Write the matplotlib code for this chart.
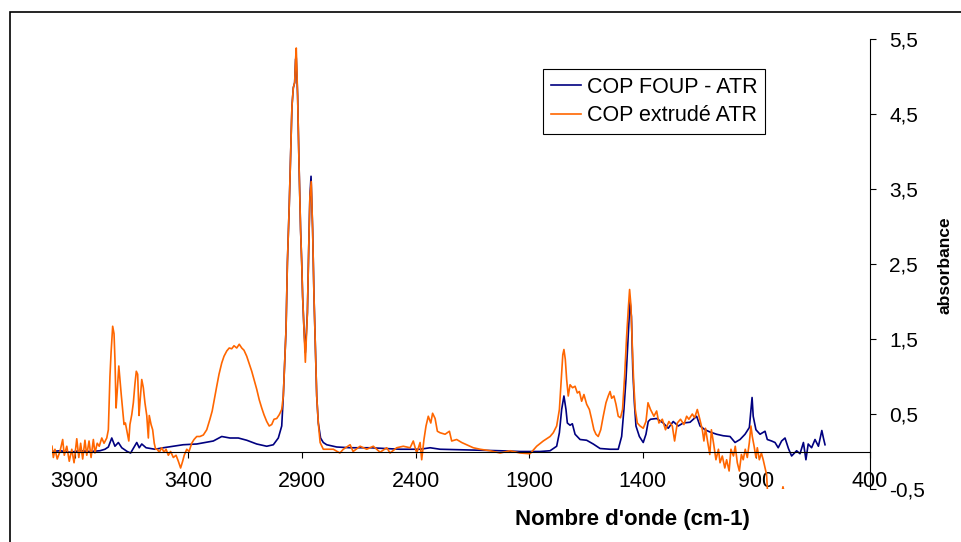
import matplotlib
matplotlib.use('Agg')
import matplotlib.pyplot as plt
from matplotlib.patches import Rectangle

plt.rcParams['font.family'] = ['Liberation Sans', 'DejaVu Sans']

# COP FOUP - ATR (wavenumber cm-1 / absorbance)
foup_wn = [4000, 3965, 3921, 3877, 3833, 3789, 3767, 3752, 3737, 3723,
           3708, 3693, 3669, 3654, 3627, 3616, 3605, 3586, 3547, 3510,
           3467, 3423, 3363, 3290, 3253, 3217, 3180, 3143, 3099, 3055,
           3026, 3004, 2989, 2982, 2970, 2964, 2956, 2950, 2944, 2938,
           2932, 2928, 2925, 2919, 2913, 2906, 2901, 2897, 2891, 2885,
           2876, 2870, 2865, 2860, 2853, 2847, 2839, 2835, 2828, 2818,
           2806, 2791, 2747, 2688, 2600, 2468, 2380, 2336, 2292, 2160,
           2028, 1940, 1852, 1808, 1779, 1767, 1757, 1747, 1738, 1732,
           1720, 1710, 1698, 1676, 1647, 1618, 1588, 1544, 1508, 1493,
           1483, 1474, 1468, 1462, 1456, 1450, 1444, 1437, 1430, 1415,
           1398, 1386, 1376, 1366, 1339, 1310, 1288, 1266, 1244, 1222,
           1192, 1163, 1148, 1126, 1104, 1075, 1046, 1016, 994, 972,
           950, 931, 924, 919, 914, 902, 884, 862, 852, 833,
           818, 804, 789, 774, 759, 745, 723, 708, 693, 682,
           672, 657, 642, 627, 612, 605, 598]
foup_abs = [0.00, 0.01, -0.01, 0.01, 0.00, 0.01, 0.03, 0.06, 0.18, 0.07,
            0.12, 0.05, 0.00, -0.02, 0.12, 0.05, 0.10, 0.05, 0.03, 0.05,
            0.07, 0.09, 0.10, 0.14, 0.20, 0.18, 0.18, 0.15, 0.10, 0.07,
            0.09, 0.18, 0.34, 0.74, 1.63, 2.52, 3.27, 3.94, 4.60, 4.85,
            4.92, 5.23, 5.25, 4.74, 3.85, 2.96, 2.52, 2.07, 1.63, 1.32,
            1.85, 2.74, 3.40, 3.67, 2.96, 2.07, 1.19, 0.74, 0.38, 0.18,
            0.12, 0.09, 0.06, 0.05, 0.05, 0.03, 0.03, 0.05, 0.03, 0.02,
            0.01, 0.00, 0.00, 0.01, 0.07, 0.25, 0.56, 0.74, 0.56, 0.38,
            0.35, 0.37, 0.23, 0.16, 0.15, 0.10, 0.04, 0.03, 0.03, 0.20,
            0.56, 0.96, 1.32, 1.67, 2.00, 1.80, 1.09, 0.65, 0.34, 0.20,
            0.12, 0.23, 0.40, 0.43, 0.44, 0.38, 0.31, 0.40, 0.34, 0.38,
            0.39, 0.47, 0.34, 0.29, 0.26, 0.23, 0.21, 0.20, 0.12, 0.16,
            0.23, 0.32, 0.56, 0.72, 0.47, 0.29, 0.23, 0.27, 0.16, 0.14,
            0.12, 0.05, 0.14, 0.18, 0.04, -0.06, 0.01, -0.03, 0.12, -0.11,
            0.10, 0.05, 0.16, 0.07, 0.28, 0.18, 0.09]

# COP extrude ATR
extr_wn = [4000, 3994, 3987, 3977, 3965, 3953, 3946, 3935, 3924, 3913,
           3903, 3891, 3882, 3874, 3865, 3855, 3847, 3837, 3828, 3818,
           3811, 3801, 3792, 3781, 3771, 3759, 3752, 3745, 3740, 3733,
           3727, 3723, 3718, 3713, 3706, 3701, 3695, 3689, 3683, 3677,
           3669, 3662, 3657, 3649, 3642, 3635, 3629, 3623, 3617, 3613,
           3605, 3598, 3591, 3583, 3576, 3572, 3564, 3557, 3550, 3544,
           3537, 3528, 3517, 3507, 3498, 3488, 3478, 3466, 3454, 3444,
           3434, 3425, 3418, 3407, 3397, 3385, 3375, 3363, 3349, 3334,
           3319, 3305, 3295, 3286, 3275, 3265, 3253, 3243, 3231, 3220,
           3209, 3199, 3187, 3176, 3165, 3155, 3143, 3133, 3121, 3111,
           3099, 3088, 3077, 3067, 3055, 3044, 3033, 3023, 3011, 3000,
           2989, 2982, 2970, 2964, 2956, 2950, 2944, 2938, 2932, 2928,
           2925, 2919, 2913, 2906, 2901, 2897, 2891, 2885, 2876, 2870,
           2865, 2859, 2853, 2847, 2839, 2835, 2828, 2820, 2806, 2762,
           2733, 2718, 2688, 2675, 2644, 2615, 2586, 2556, 2527, 2512,
           2483, 2454, 2424, 2410, 2395, 2380, 2373, 2363, 2354, 2344,
           2333, 2325, 2314, 2304, 2292, 2270, 2251, 2241, 2219, 2197,
           2175, 2146, 2116, 2072, 2028, 1984, 1940, 1896, 1867, 1838,
           1808, 1794, 1779, 1767, 1758, 1752, 1747, 1741, 1735, 1728,
           1720, 1709, 1698, 1688, 1679, 1669, 1659, 1647, 1635, 1625,
           1615, 1606, 1596, 1585, 1574, 1562, 1552, 1544, 1537, 1527,
           1518, 1508, 1498, 1489, 1480, 1471, 1464, 1458, 1452, 1446,
           1440, 1433, 1424, 1412, 1398, 1386, 1377, 1366, 1351, 1339,
           1329, 1314, 1300, 1285, 1270, 1260, 1248, 1234, 1219, 1207,
           1197, 1182, 1172, 1160, 1149, 1138, 1131, 1124, 1114, 1105,
           1098, 1088, 1078, 1067, 1060, 1050, 1039, 1031, 1020, 1012,
           1001, 993, 984, 975, 966, 958, 949, 940, 931, 924,
           918, 910, 902, 896, 887, 878, 870, 862, 855, 849,
           818, 791, 783, 774, 757]
extr_abs = [0.07, -0.08, 0.03, -0.10, 0.00, 0.16, -0.05, 0.07, -0.13, 0.03,
            -0.15, 0.17, -0.08, 0.11, -0.10, 0.15, -0.05, 0.14, -0.08, 0.16,
            -0.02, 0.11, 0.07, 0.18, 0.11, 0.18, 0.29, 1.00, 1.32, 1.67,
            1.57, 1.23, 0.58, 0.80, 1.14, 0.96, 0.75, 0.56, 0.36, 0.38,
            0.25, 0.14, 0.36, 0.49, 0.65, 0.90, 1.07, 1.03, 0.48, 0.65,
            0.96, 0.85, 0.65, 0.48, 0.18, 0.48, 0.36, 0.29, 0.11, 0.03,
            0.03, -0.01, 0.05, -0.01, 0.03, -0.05, 0.00, -0.08, -0.05, -0.13,
            -0.22, -0.13, -0.05, 0.03, 0.00, 0.11, 0.16, 0.20, 0.20, 0.22,
            0.29, 0.43, 0.54, 0.69, 0.87, 1.03, 1.18, 1.27, 1.34, 1.38,
            1.37, 1.41, 1.38, 1.43, 1.38, 1.35, 1.27, 1.18, 1.07, 0.96,
            0.83, 0.69, 0.58, 0.49, 0.40, 0.34, 0.36, 0.43, 0.44, 0.49,
            0.56, 0.74, 1.63, 2.52, 3.27, 3.94, 4.60, 4.85, 4.92, 5.23,
            5.38, 4.74, 3.85, 2.96, 2.52, 2.07, 1.63, 1.19, 1.85, 2.74,
            3.40, 3.60, 2.96, 2.07, 1.19, 0.74, 0.38, 0.12, 0.03, 0.03,
            -0.02, 0.03, 0.09, 0.00, 0.07, 0.03, 0.07, -0.01, 0.05, -0.02,
            0.05, 0.07, 0.05, 0.14, -0.02, 0.12, -0.11, 0.16, 0.34, 0.47,
            0.38, 0.51, 0.44, 0.27, 0.25, 0.23, 0.27, 0.14, 0.16, 0.12,
            0.09, 0.05, 0.03, 0.01, -0.02, 0.01, -0.02, -0.03, 0.07, 0.14,
            0.20, 0.25, 0.34, 0.56, 1.00, 1.29, 1.36, 1.23, 0.96, 0.74,
            0.89, 0.85, 0.87, 0.78, 0.80, 0.67, 0.76, 0.63, 0.56, 0.43,
            0.29, 0.23, 0.20, 0.29, 0.47, 0.65, 0.74, 0.80, 0.71, 0.74,
            0.63, 0.47, 0.45, 0.56, 1.00, 1.54, 1.89, 2.16, 1.94, 1.40,
            0.92, 0.56, 0.38, 0.34, 0.31, 0.40, 0.65, 0.56, 0.47, 0.54,
            0.38, 0.43, 0.29, 0.40, 0.34, 0.14, 0.38, 0.43, 0.36, 0.47,
            0.43, 0.50, 0.45, 0.56, 0.43, 0.29, 0.14, 0.31, 0.12, -0.04,
            0.29, 0.10, -0.11, 0.03, -0.15, -0.06, -0.22, -0.11, -0.26, 0.03,
            -0.06, 0.07, -0.15, -0.26, -0.04, -0.11, 0.03, -0.08, 0.12, 0.34,
            0.20, 0.07, -0.08, 0.05, -0.11, -0.02, -0.11, -0.22, -0.31, -0.65,
            -0.75, -0.60, -0.47, -0.60, -0.80]

x_ticks = [3900, 3400, 2900, 2400, 1900, 1400, 900, 400]
y_ticks = [-0.5, 0.5, 1.5, 2.5, 3.5, 4.5, 5.5]

W, H = 962, 542
fig = plt.figure(figsize=(W / 100, H / 100), dpi=100)
ax = fig.add_axes([52 / W, 1 - 489 / H, (870 - 52) / W, (489 - 39) / H])

ax.plot(foup_wn, foup_abs, color='#000080', lw=1.2, label='COP FOUP - ATR')
ax.plot(extr_wn, extr_abs, color='#FF6600', lw=1.2, label='COP extrudé ATR')

ax.set_xlim(4000, 400)
ax.set_ylim(-0.5, 5.5)

# excel-like axes: x axis crosses at 0, y axis on the right
ax.spines['left'].set_visible(False)
ax.spines['top'].set_visible(False)
ax.spines['bottom'].set_position(('data', 0))
ax.yaxis.tick_right()
ax.set_xticks(x_ticks)
ax.set_yticks(y_ticks)
ax.set_yticklabels([f'{v:.1f}'.replace('.', ',') for v in y_ticks])
ax.tick_params(axis='x', direction='out', length=4, width=0.8, labelsize=15.5, pad=10)
ax.tick_params(axis='y', direction='out', length=4, width=0.8, labelsize=15, pad=10)

leg = ax.legend(loc='upper left', bbox_to_anchor=(543 / W, 1 - 69 / H),
                bbox_transform=fig.transFigure, fontsize=15.5, frameon=True,
                fancybox=False, edgecolor='black', framealpha=1,
                handlelength=1.4, handletextpad=0.3, borderpad=0.35,
                labelspacing=0.35, borderaxespad=0)
leg.get_frame().set_linewidth(0.8)

fig.text(632 / W, 1 - 520 / H, "Nombre d'onde (cm-1)", ha='center', va='center',
         fontsize=16, fontweight='bold')
fig.text(945 / W, 1 - 265 / H, 'absorbance', rotation=90, ha='center', va='center',
         fontsize=12.5, fontweight='bold')

# chart border (runs off right and bottom edge)
fig.add_artist(Rectangle((10 / W, -0.1), 1.2, 1 - 12 / H + 0.1, transform=fig.transFigure,
                         fill=False, edgecolor='black', lw=1.2))

fig.savefig('out.png', dpi=100)
